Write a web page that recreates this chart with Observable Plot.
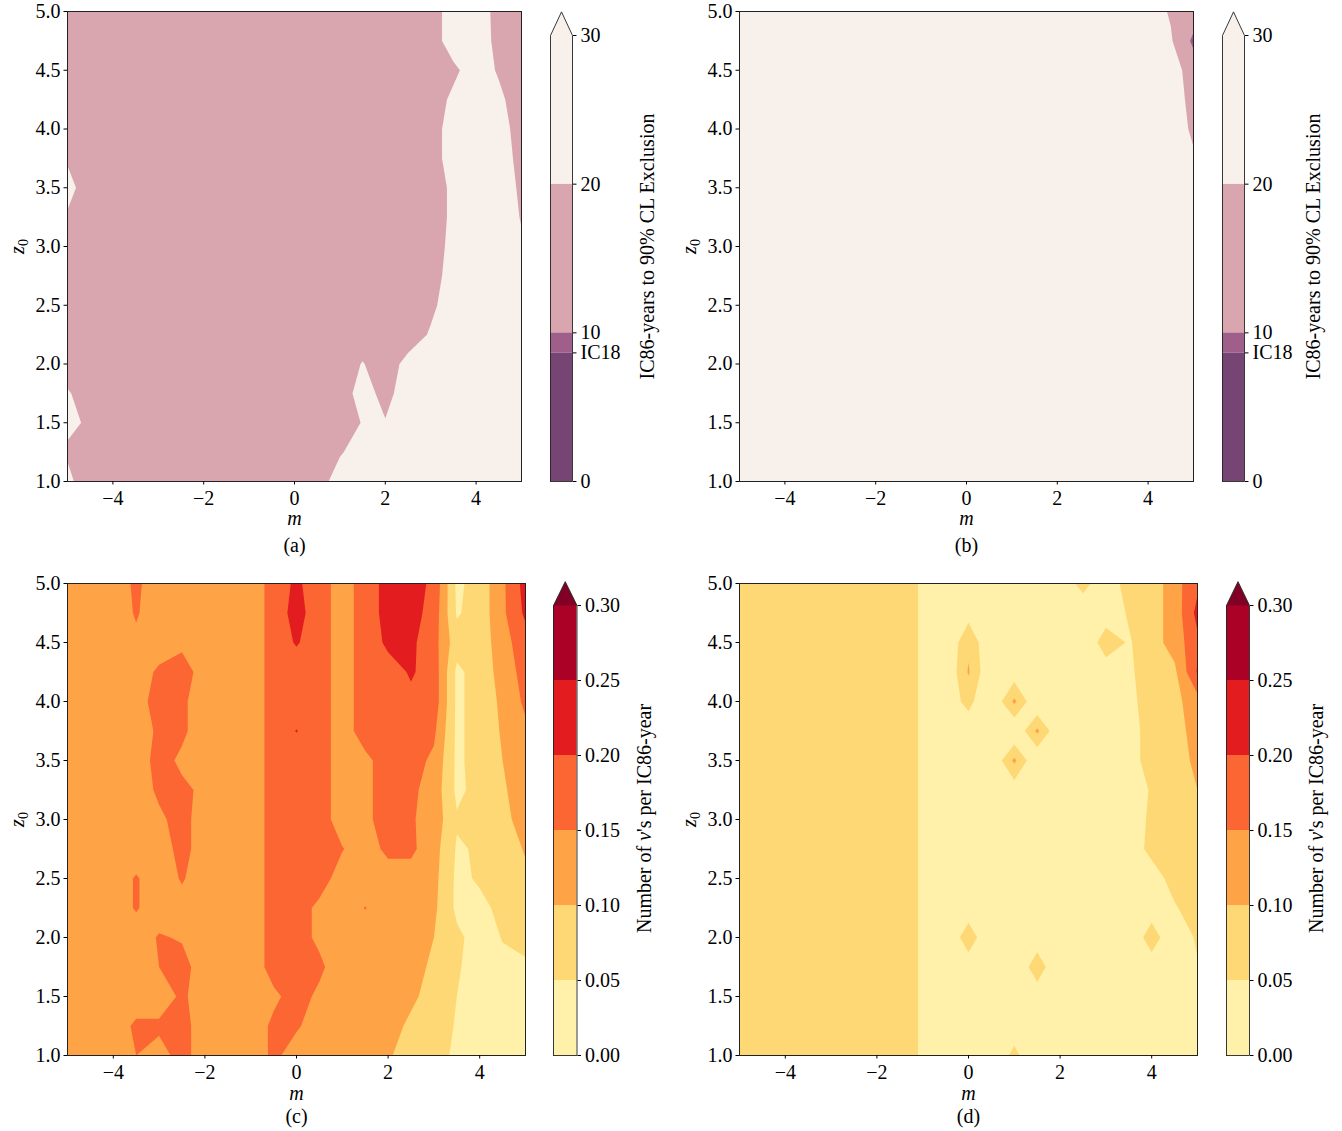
<!DOCTYPE html>
<html><head><meta charset="utf-8">
<script src="https://cdn.jsdelivr.net/npm/d3@7"></script>
<script src="https://cdn.jsdelivr.net/npm/@observablehq/plot@0.6"></script>
<style>
body{margin:0;background:#fff;}
#fig{position:relative;width:1342px;height:1131px;background:#fff;overflow:hidden;}
#fig svg{position:absolute;}
</style></head><body><div id="fig"></div>
<script>
// ---------- grid coordinates ----------
const mValues = [-5,-4.5,-4,-3.5,-3,-2.5,-2,-1.5,-1,-0.5,0,0.5,1,1.5,2,2.5,3,3.5,4,4.5,5];
const z0Values = [5,4.75,4.5,4.25,4,3.75,3.5,3.25,3,2.75,2.5,2.25,2,1.75,1.5,1.25,1]; // rows, top to bottom
const xTicks = [-4,-2,0,2,4];
const yTicks = [1,1.5,2,2.5,3,3.5,4,4.5,5];

// ---------- colour levels ----------
const yearsLevels = [0, 8.65, 10, 20, 30];
const yearsTickLabels = ["0","IC18","10","20","30"];
const yearsColors = ["#764574","#a05e8b","#d9a5af","#f8f0eb"];
const yearsExtendColor = "#f8f0eb";
const rateLevels = [0,0.05,0.1,0.15,0.2,0.25,0.3];
const rateTickLabels = ["0.00","0.05","0.10","0.15","0.20","0.25","0.30"];
const rateColors = ["#fff0aa","#fed875","#fea446","#fc6633","#e31d1f","#ab0126"];
const rateExtendColor = "#800026";

// ---------- (a) IC86-years to exclusion ----------
const gridA = [
[15,15,15,15,15,15,15,15,15,15,15,15,15,15,15,15,15,25,25,17,15],
[15,15,15,15,15,15,15,15,15,15,15,15,15,15,15,15,15,25,25,17.5,15],
[15,15,15,15,15,15,15,15,15,15,15,15,15,15,15,15,15,18,25,19,15],
[15,15,15,15,15,15,15,15,15,15,15,15,15,15,15,15,15,22,25,22,15],
[15,15,15,15,15,15,15,15,15,15,15,15,15,15,15,15,15,25,25,25,15],
[19,15,15,15,15,15,15,15,15,15,15,15,15,15,15,15,15,25,25,25,17],
[23,15,15,15,15,15,15,15,15,15,15,15,15,15,15,15,15,22,25,25,18.5],
[19,15,15,15,15,15,15,15,15,15,15,15,15,15,15,15,15,22,25,25,19.5],
[15,15,15,15,15,15,15,15,15,15,15,15,15,15,15,15,15,23,25,25,21],
[15,15,15,15,15,15,15,15,15,15,15,15,15,15,15,15,15,25,25,25,25],
[15,15,15,15,15,15,15,15,15,15,15,15,15,15,15,15,18,25,25,25,25],
[15,15,15,15,15,15,15,15,15,15,15,15,15,15,15,15,21,25,25,25,25],
[15,15,15,15,15,15,15,15,15,15,15,15,15,20.5,15,23,25,25,25,25,25],
[21,15,15,15,15,15,15,15,15,15,15,15,15,24,17,25,25,25,25,25,25],
[21.5,19,15,15,15,15,15,15,15,15,15,15,15,20.5,20.5,25,25,25,25,25,25],
[19,15,15,15,15,15,15,15,15,15,15,15,19,25,25,25,25,25,25,25,25],
[22,15,15,15,15,15,15,15,15,15,15,15,25,25,25,25,25,25,25,25,25]
];

// ---------- (b) ----------
const gridB = [
[25,25,25,25,25,25,25,25,25,25,25,25,25,25,25,25,25,25,25,19,15],
[25,25,25,25,25,25,25,25,25,25,25,25,25,25,25,25,25,25,25,21,8],
[25,25,25,25,25,25,25,25,25,25,25,25,25,25,25,25,25,25,25,25,15],
[25,25,25,25,25,25,25,25,25,25,25,25,25,25,25,25,25,25,25,25,17],
[25,25,25,25,25,25,25,25,25,25,25,25,25,25,25,25,25,25,25,25,18.5],
[25,25,25,25,25,25,25,25,25,25,25,25,25,25,25,25,25,25,25,25,21],
[25,25,25,25,25,25,25,25,25,25,25,25,25,25,25,25,25,25,25,25,25],
[25,25,25,25,25,25,25,25,25,25,25,25,25,25,25,25,25,25,25,25,25],
[25,25,25,25,25,25,25,25,25,25,25,25,25,25,25,25,25,25,25,25,25],
[25,25,25,25,25,25,25,25,25,25,25,25,25,25,25,25,25,25,25,25,25],
[25,25,25,25,25,25,25,25,25,25,25,25,25,25,25,25,25,25,25,25,25],
[25,25,25,25,25,25,25,25,25,25,25,25,25,25,25,25,25,25,25,25,25],
[25,25,25,25,25,25,25,25,25,25,25,25,25,25,25,25,25,25,25,25,25],
[25,25,25,25,25,25,25,25,25,25,25,25,25,25,25,25,25,25,25,25,25],
[25,25,25,25,25,25,25,25,25,25,25,25,25,25,25,25,25,25,25,25,25],
[25,25,25,25,25,25,25,25,25,25,25,25,25,25,25,25,25,25,25,25,25],
[25,25,25,25,25,25,25,25,25,25,25,25,25,25,25,25,25,25,25,25,25]
];

// ---------- (c) neutrinos per IC86-year ----------
const gridC = [
[.12,.12,.12,.16,.12,.12,.12,.12,.12,.17,.21,.17,.13,.17,.22,.22,.19,.04,.07,.14,.22],
[.12,.12,.12,.155,.12,.12,.12,.12,.12,.17,.22,.17,.13,.17,.22,.22,.18,.045,.07,.14,.21],
[.12,.12,.12,.14,.12,.14,.12,.12,.12,.17,.205,.17,.13,.17,.21,.21,.17,.07,.07,.13,.18],
[.12,.12,.12,.12,.16,.17,.13,.12,.12,.17,.17,.17,.13,.17,.18,.205,.18,.04,.07,.12,.17],
[.12,.12,.12,.14,.16,.16,.12,.12,.12,.17,.17,.17,.13,.17,.18,.19,.18,.04,.07,.11,.16],
[.12,.12,.12,.12,.16,.16,.12,.12,.12,.17,.202,.17,.13,.17,.19,.17,.16,.04,.07,.105,.14],
[.12,.12,.12,.12,.17,.14,.12,.12,.12,.17,.17,.17,.13,.14,.17,.17,.14,.04,.07,.10,.13],
[.12,.12,.12,.12,.16,.16,.14,.12,.12,.17,.17,.17,.13,.14,.17,.16,.13,.04,.065,.095,.12],
[.12,.12,.12,.12,.14,.17,.12,.12,.12,.17,.17,.17,.13,.14,.17,.155,.13,.055,.06,.09,.115],
[.12,.12,.12,.12,.12,.17,.12,.12,.12,.17,.17,.17,.152,.13,.16,.16,.12,.045,.055,.07,.105],
[.12,.12,.12,.155,.12,.155,.12,.12,.12,.17,.17,.17,.13,.12,.13,.13,.115,.04,.055,.07,.09],
[.12,.12,.12,.155,.12,.13,.12,.12,.12,.17,.17,.14,.12,.152,.12,.12,.11,.04,.04,.06,.07],
[.12,.12,.12,.12,.155,.145,.12,.12,.12,.17,.17,.14,.12,.12,.12,.12,.10,.06,.03,.052,.06],
[.12,.12,.12,.12,.15,.17,.12,.12,.12,.17,.17,.16,.12,.12,.12,.12,.09,.055,.03,.04,.045],
[.12,.12,.12,.12,.12,.16,.12,.12,.12,.14,.17,.14,.12,.12,.12,.11,.08,.05,.03,.03,.04],
[.12,.12,.12,.16,.16,.17,.12,.12,.12,.16,.155,.13,.12,.12,.12,.09,.08,.045,.03,.03,.03],
[.12,.12,.12,.15,.13,.17,.12,.12,.12,.16,.13,.12,.12,.12,.105,.08,.07,.04,.03,.03,.03]
];

// ---------- (d) ----------
const gridD = [
[.07,.07,.07,.07,.07,.07,.07,.07,.045,.02,.02,.02,.02,.02,.02,.065,.02,.07,.07,.13,.19],
[.07,.07,.07,.07,.07,.07,.07,.07,.045,.02,.03,.02,.02,.02,.02,.02,.02,.055,.08,.12,.215],
[.07,.07,.07,.07,.07,.07,.07,.07,.045,0,.09,0,.02,.02,.02,0,.08,.045,.08,.12,.19],
[.07,.07,.07,.07,.07,.07,.07,.07,.045,0,.105,0,.02,.02,.02,.02,.02,.04,.08,.09,.205],
[.07,.07,.07,.07,.07,.07,.07,.07,.045,.02,.065,0,.11,0,.02,.02,.02,.035,.075,.085,.13],
[.07,.07,.07,.07,.07,.07,.07,.07,.045,.02,.02,.02,0,.11,0,.02,.02,.03,.07,.08,.12],
[.07,.07,.07,.07,.07,.07,.07,.07,.045,.02,.02,0,.11,0,.02,.02,.02,.03,.07,.08,.11],
[.07,.07,.07,.07,.07,.07,.07,.07,.045,.02,.02,.02,.02,.02,.02,.02,.02,.02,.055,.08,.10],
[.07,.07,.07,.07,.07,.07,.07,.07,.045,.02,.02,.02,.02,.02,.02,.02,.02,.02,.06,.08,.09],
[.07,.07,.07,.07,.07,.07,.07,.07,.045,.02,.02,.02,.02,.02,.02,.02,.02,.02,.065,.08,.085],
[.07,.07,.07,.07,.07,.07,.07,.07,.045,.02,.02,.02,.02,.02,.02,.02,.02,.02,.025,.07,.08],
[.07,.07,.07,.07,.07,.07,.07,.07,.045,.02,.02,.02,.02,.02,.02,.02,.02,.02,.02,.045,.075],
[.07,.07,.07,.07,.07,.07,.07,.07,.045,0,.08,0,.02,.02,.02,.02,.02,0,.08,0,.06],
[.07,.07,.07,.07,.07,.07,.07,.07,.045,.02,.02,.02,0,.08,0,.02,.02,.02,.02,.02,.045],
[.07,.07,.07,.07,.07,.07,.07,.07,.045,.02,.02,.02,.02,.02,.02,.02,.02,.02,.02,.02,.02],
[.07,.07,.07,.07,.07,.07,.07,.07,.045,.02,.02,.02,.02,.02,.02,.02,.02,.02,.02,.02,.02],
[.07,.07,.07,.07,.07,.07,.07,.07,.045,.02,.02,0,.065,0,.02,.02,.02,.02,.02,.02,.02]
];

const yearsLabel = "IC86-years to 90% CL Exclusion";
const rateLabel = "Number of ν's per IC86-year";
const panelTags = ["(a)","(b)","(c)","(d)"];

// ---------- drawing ----------
const FONT = "Liberation Serif";
const FS = 20;
const EXTEND_FRAC = 0.053;
const fig = document.getElementById("fig");
const style = {fontFamily: FONT, fontSize: FS + "px", color: "#000", background: "transparent", overflow: "visible"};
const NS = "http://www.w3.org/2000/svg";

function place(svg, left, top) {
  svg.style.left = left + "px";
  svg.style.top = top + "px";
  fig.appendChild(svg);
}

function drawPanel(p) {
  const ny = p.grid.length, nx = p.grid[0].length;
  const dm = mValues[1] - mValues[0], dz = z0Values[0] - z0Values[1];
  const flat = p.grid.slice().reverse().flat();
  const [fL, fR, fT, fB] = p.frame;
  const left = fL - 67, top = fT - 11;
  const width = fR - left + 20, height = fB - top + 85;
  const bg = p.colors[Math.max(0, d3.bisectRight(p.levels, d3.min(flat)) - 1)];
  const svg = Plot.plot({
    width, height,
    marginLeft: fL - left, marginTop: fT - top, marginRight: width - (fR - left), marginBottom: height - (fB - top),
    x: {domain: [mValues[0], mValues[nx - 1]]},
    y: {domain: [z0Values[ny - 1], z0Values[0]]},
    color: {type: "threshold", domain: p.levels.slice(1), range: [...p.colors, p.extendColor]},
    style,
    marks: [
      Plot.frame({fill: bg, stroke: "none"}),
      Plot.contour(flat, {
        width: nx, height: ny,
        x1: mValues[0] - dm / 2, x2: mValues[nx - 1] + dm / 2,
        y1: z0Values[ny - 1] - dz / 2, y2: z0Values[0] + dz / 2,
        fill: Plot.identity, thresholds: p.levels, clip: true
      }),
      Plot.frame({stroke: "#222", strokeWidth: 1}),
      Plot.axisX({ticks: xTicks, tickFormat: d3.format("d"), tickSize: 3.5, tickPadding: 5.5, label: null}),
      Plot.axisY({ticks: yTicks, tickFormat: d3.format(".1f"), tickSize: 3.5, tickPadding: 3.5, label: null}),
      Plot.text(["m"], {frameAnchor: "bottom", dy: p.mDy, fontStyle: "italic", textAnchor: "middle", lineAnchor: "middle"}),
      Plot.text([p.tag], {frameAnchor: "bottom", dy: p.tagDy, textAnchor: "middle", lineAnchor: "middle"}),
      Plot.text(["z0"], {frameAnchor: "left", dx: -50, rotate: -90, textAnchor: "middle", lineAnchor: "middle"})
    ]
  });
  svg.querySelectorAll("text").forEach(t => {
    if (t.textContent === "z0" && !t.querySelector("tspan")) {
      t.textContent = "";
      const a = document.createElementNS(NS, "tspan");
      a.setAttribute("font-style", "italic"); a.textContent = "z";
      const b = document.createElementNS(NS, "tspan");
      b.setAttribute("font-size", "0.7em"); b.setAttribute("dy", "0.3em"); b.textContent = "0";
      t.appendChild(a); t.appendChild(b);
    }
  });
  place(svg, left, top);
}

function drawColorbar(c) {
  const [bL, bR, bT, bB] = c.bar;
  const left = bL - 10, top = bT - 40;
  const width = 150, height = bB - top + 20;
  const lv = c.levels, lo = lv[0], hi = lv[lv.length - 1];
  const bands = c.colors.map((color, i) => ({lo: lv[i], hi: lv[i + 1], color}));
  const tip = hi + EXTEND_FRAC * (hi - lo);
  const tri = [{x: 0, y: hi}, {x: 0.5, y: tip}, {x: 1, y: hi}];
  const outline = [{x: 0, y: lo}, {x: 0, y: hi}, {x: 0.5, y: tip}, {x: 1, y: hi}, {x: 1, y: lo}, {x: 0, y: lo}];
  const labelMap = new Map(lv.map((v, i) => [v, c.tickLabels[i]]));
  const svg = Plot.plot({
    width, height,
    marginLeft: 10, marginRight: width - 10 - (bR - bL), marginTop: 40, marginBottom: 20,
    x: {domain: [0, 1], axis: null},
    y: {domain: [lo, hi]},
    style,
    marks: [
      Plot.rect(bands, {x1: 0, x2: 1, y1: "lo", y2: "hi", fill: "color"}),
      Plot.line(tri, {x: "x", y: "y", fill: c.extendColor, stroke: "none"}),
      Plot.line(outline, {x: "x", y: "y", stroke: "#222", strokeWidth: 0.9, strokeLinejoin: "miter", strokeLinecap: "square"}),
      Plot.axisY({anchor: "right", ticks: lv, tickFormat: d => labelMap.get(d), tickSize: 3.5, tickPadding: 4.5, label: null}),
      Plot.text([c.label], {frameAnchor: "right", dx: c.labelDx, dy: -12, rotate: -90, textAnchor: "middle", lineAnchor: "middle"})
    ]
  });
  svg.querySelectorAll("text").forEach(t => {
    const s = t.textContent;
    if (s.includes("ν") && !t.querySelector("tspan")) {
      const [pre, post] = s.split("ν");
      t.textContent = "";
      const a = document.createElementNS(NS, "tspan"); a.textContent = pre;
      const b = document.createElementNS(NS, "tspan"); b.setAttribute("font-style", "italic"); b.textContent = "ν";
      const d = document.createElementNS(NS, "tspan"); d.textContent = post;
      t.appendChild(a); t.appendChild(b); t.appendChild(d);
    }
  });
  place(svg, left, top);
}

const panels = [
  {grid: gridA, frame: [67, 521, 11, 481], levels: yearsLevels, colors: yearsColors, extendColor: yearsExtendColor, tag: panelTags[0], mDy: 37, tagDy: 64},
  {grid: gridB, frame: [739, 1193, 11, 481], levels: yearsLevels, colors: yearsColors, extendColor: yearsExtendColor, tag: panelTags[1], mDy: 37, tagDy: 64},
  {grid: gridC, frame: [67, 525, 583, 1055], levels: rateLevels, colors: rateColors, extendColor: rateExtendColor, tag: panelTags[2], mDy: 38, tagDy: 61},
  {grid: gridD, frame: [739, 1197, 583, 1055], levels: rateLevels, colors: rateColors, extendColor: rateExtendColor, tag: panelTags[3], mDy: 38, tagDy: 61}
];
panels.forEach(drawPanel);

const bars = [
  {bar: [550, 572, 35, 481], levels: yearsLevels, tickLabels: yearsTickLabels, colors: yearsColors, extendColor: yearsExtendColor, label: yearsLabel, labelDx: 75},
  {bar: [1222, 1244, 35, 481], levels: yearsLevels, tickLabels: yearsTickLabels, colors: yearsColors, extendColor: yearsExtendColor, label: yearsLabel, labelDx: 69},
  {bar: [553, 576.5, 605, 1055], levels: rateLevels, tickLabels: rateTickLabels, colors: rateColors, extendColor: rateExtendColor, label: rateLabel, labelDx: 68},
  {bar: [1226, 1249, 605, 1055], levels: rateLevels, tickLabels: rateTickLabels, colors: rateColors, extendColor: rateExtendColor, label: rateLabel, labelDx: 67}
];
bars.forEach(drawColorbar);
</script></body></html>
